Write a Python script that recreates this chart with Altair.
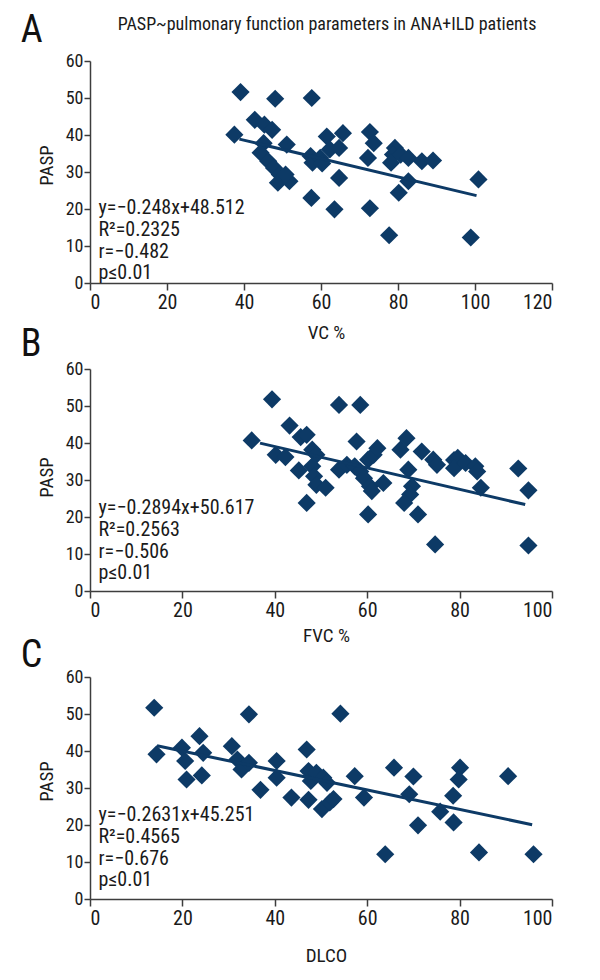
import altair as alt
import pandas as pd

FONT = "Liberation Sans Narrow, Roboto Condensed, DejaVu Sans Condensed, sans-serif"
NAVY = "#0d3a66"
AXIS = "#3d3d3d"

main_title = "PASP~pulmonary function parameters in ANA+ILD patients"

# Panel A: VC %
vc_x = [39.1, 48.1, 57.6, 37.5, 42.8, 45.3, 47.3, 45.1, 44.3, 51.1, 46.3, 47.8, 49.3, 48.8, 51.8,
        50.8, 57.3, 57.8, 59.8, 60.3, 57.5, 61.5, 62.3, 64.7, 65.7, 64.7, 63.5, 72.7, 73.7, 72.2,
        72.7, 79.2, 78.7, 78.2, 80.7, 82.7, 86.2, 89.1, 80.2, 82.7, 77.7, 98.9, 100.9]
vc_y = [51.6, 49.8, 50.0, 40.1, 44.1, 42.8, 41.4, 37.8, 35.2, 37.4, 32.9, 31.1, 29.3, 27.1, 27.5,
        29.3, 34.3, 32.5, 33.8, 32.3, 23.0, 39.6, 36.1, 36.5, 40.5, 28.4, 19.9, 40.8, 37.8, 33.8,
        20.2, 36.5, 34.7, 32.5, 34.7, 33.8, 32.9, 33.1, 24.4, 27.5, 12.9, 12.3, 28.0]
vc_fit = [-0.248, 48.512]
vc_fit_range = [38.8, 100.4]
vc_stats = ["y=\u22120.248x+48.512", "R\u00b2=0.2325", "r=\u22120.482", "p\u22640.01"]

# Panel B: FVC %
fvc_x = [39.4, 53.9, 58.5, 35.0, 43.2, 45.6, 46.9, 40.2, 42.3, 45.2, 48.1, 49.0, 48.1, 48.5, 49.0,
         51.0, 46.9, 53.9, 55.6, 57.7, 57.3, 58.5, 59.3, 60.2, 61.4, 62.2, 60.6, 61.0, 63.5, 60.2,
         67.2, 68.5, 68.9, 69.7, 69.3, 68.0, 71.0, 71.8, 74.3, 75.1, 78.8, 79.6, 78.8, 81.3, 83.4,
         83.8, 84.6, 74.7, 92.7, 94.9, 94.9]
fvc_y = [51.8, 50.3, 50.3, 40.7, 44.7, 41.6, 42.2, 36.8, 36.2, 32.6, 38.2, 36.8, 33.7, 31.0, 28.7,
         27.9, 23.8, 32.8, 34.1, 40.4, 33.7, 32.3, 30.5, 35.5, 36.8, 38.6, 28.3, 27.0, 29.2, 20.7,
         38.2, 41.3, 32.8, 28.3, 26.1, 23.8, 20.7, 37.7, 35.5, 34.1, 35.4, 36.0, 33.2, 34.6, 33.7,
         32.3, 27.9, 12.6, 33.1, 27.2, 12.3]
fvc_fit = [-0.2894, 50.617]
fvc_fit_range = [36.8, 94.2]
fvc_stats = ["y=\u22120.2894x+50.617", "R\u00b2=0.2563", "r=\u22120.506", "p\u22640.01"]

# Panel C: DLCO
dlco_x = [13.9, 14.4, 34.4, 54.2, 19.9, 20.6, 20.9, 23.7, 24.5, 24.2, 30.7, 31.9, 32.8, 34.4, 36.9,
          40.4, 40.4, 43.6, 46.9, 47.3, 47.8, 49.0, 47.3, 50.5, 51.3, 50.2, 51.9, 52.7, 57.3, 59.3,
          63.9, 65.8, 70.0, 69.1, 71.0, 75.8, 78.6, 80.1, 79.8, 78.7, 84.2, 90.5, 96.0]
dlco_y = [51.7, 39.1, 49.9, 50.1, 40.9, 37.3, 32.3, 44.0, 39.5, 33.4, 41.3, 37.7, 35.0, 36.8, 29.5,
          37.3, 32.8, 27.4, 40.4, 34.6, 31.9, 34.1, 26.8, 32.8, 31.4, 24.3, 26.1, 27.0, 33.2, 27.4,
          12.1, 35.5, 33.1, 28.3, 19.9, 23.6, 27.9, 35.5, 32.3, 20.7, 12.6, 33.2, 12.1]
dlco_fit = [-0.2631, 45.251]
dlco_fit_range = [14.5, 95.7]
dlco_stats = ["y=\u22120.2631x+45.251", "R\u00b2=0.4565", "r=\u22120.676", "p\u22640.01"]

y_ticks = [0, 10, 20, 30, 40, 50, 60]

W, H = 462, 222


def panel(letter, xs, ys, fit, fit_range, stats, xlabel, xmax, letter_y, stats_y,
          ytitle_y, xtitle_y, with_title=False):
    df = pd.DataFrame({"x": xs, "y": ys})
    fit_df = pd.DataFrame({"x": fit_range,
                           "y": [fit[0] * v + fit[1] for v in fit_range]})
    xscale = alt.Scale(domain=[0, xmax], nice=False, zero=True)
    yscale = alt.Scale(domain=[0, 60], nice=False)
    xaxis = alt.Axis(values=list(range(0, xmax + 1, 20)), grid=False, ticks=True, tickSize=7,
                     labelPadding=2, labelFontSize=20, labelFont=FONT, labelColor="#1a1a1a",
                     labelOverlap=False,
                     domainColor=AXIS, tickColor=AXIS, domainWidth=1.5, tickWidth=1.5,
                     title=xlabel, titleFont=FONT, titleFontSize=19, titleFontWeight="normal",
                     titleColor="#1a1a1a", titleX=236, titleY=xtitle_y, titleBaseline="top",
                     titleAlign="center")
    yaxis = alt.Axis(values=y_ticks, grid=False, ticks=True, tickSize=6,
                     labelPadding=1, labelFontSize=18, labelFont=FONT, labelColor="#1a1a1a",
                     labelOverlap=False, labelBound=False, labelFlush=False,
                     domainColor=AXIS, tickColor=AXIS, domainWidth=1.5, tickWidth=1.5,
                     title="PASP", titleFont=FONT, titleFontSize=19, titleFontWeight="normal",
                     titleColor="#1a1a1a", titleX=-44, titleY=ytitle_y, titleAngle=270,
                     titleBaseline="middle", titleAlign="center")
    pts = alt.Chart(df).mark_point(shape="diamond", filled=True, size=330, color=NAVY,
                                   opacity=1).encode(
        x=alt.X("x:Q", scale=xscale, axis=xaxis),
        y=alt.Y("y:Q", scale=yscale, axis=yaxis),
    )
    line = alt.Chart(fit_df).mark_line(color=NAVY, strokeWidth=3).encode(
        x=alt.X("x:Q", scale=xscale, axis=xaxis), y=alt.Y("y:Q", scale=yscale, axis=yaxis))
    txt = alt.Chart(pd.DataFrame({"t": ["\n".join(stats)]})).mark_text(
        align="left", baseline="top", font=FONT, fontSize=20, color="#1a1a1a",
        lineBreak="\n", lineHeight=21.8).encode(
        text="t:N", x=alt.value(8.5), y=alt.value(stats_y))
    let = alt.Chart(pd.DataFrame({"t": [letter]})).mark_text(
        align="left", baseline="alphabetic", font=FONT, fontSize=38, color="#111").encode(
        text="t:N", x=alt.value(-69.3), y=alt.value(letter_y))
    layers = [pts, line, txt, let]
    if with_title:
        ttl = alt.Chart(pd.DataFrame({"t": [main_title]})).mark_text(
            align="center", baseline="alphabetic", font=FONT, fontSize=18,
            color="#1a1a1a").encode(text="t:N", x=alt.value(237), y=alt.value(-31.5))
        layers.append(ttl)
    return alt.layer(*layers).properties(width=W, height=H)


pa = panel("A", vc_x, vc_y, vc_fit, vc_fit_range, vc_stats, "VC %", 120,
           -19, 137, 104, 40, with_title=True)
pb = panel("B", fvc_x, fvc_y, fvc_fit, fvc_fit_range, fvc_stats, "FVC %", 100,
           -13, 129, 108, 35)
pc = panel("C", dlco_x, dlco_y, dlco_fit, dlco_fit_range, dlco_stats, "DLCO", 100,
           -10, 128, 104, 47)

chart = alt.vconcat(pa, pb, pc, spacing=86, bounds="flush").properties(
    padding={"left": 12, "top": 4, "right": 5, "bottom": 5},
    background="white",
).configure_view(stroke=None)

chart.save("out.html", embed_options={"renderer": "svg", "actions": False})
